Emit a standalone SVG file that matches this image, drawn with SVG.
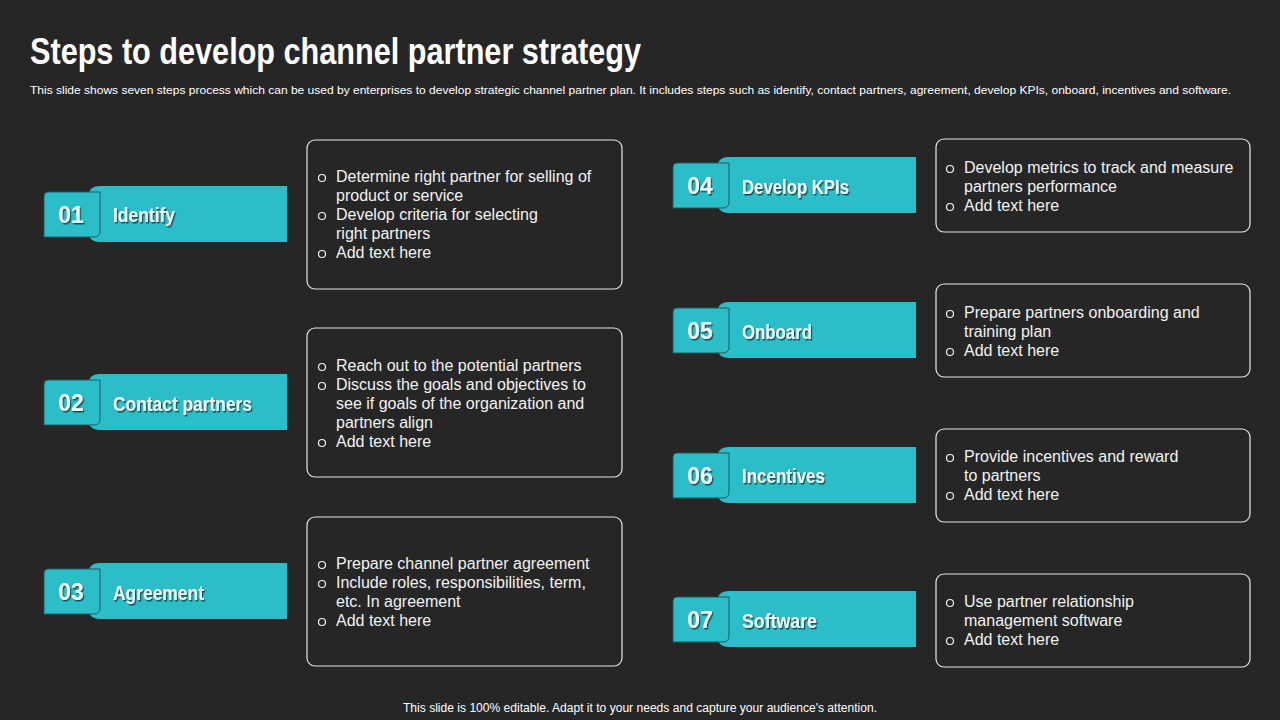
<svg xmlns="http://www.w3.org/2000/svg" width="1280" height="720" viewBox="0 0 1280 720">
<defs>
<filter id="sh" x="-10%" y="-20%" width="130%" height="160%">
<feDropShadow dx="1.2" dy="1.5" stdDeviation="0.6" flood-color="#0c3a3e" flood-opacity="0.85"/>
</filter>
<path id="banner" d="M12,0 H199 V56 H12 Q0,56 0,44 V12 Q0,0 12,0 Z"/>
<path id="numbox" d="M4,0 H56 V39 Q56,45 50,45 H0 V4 Q0,0 4,0 Z"/>
</defs>
<style>
.bg{fill:#262626}
.ban{fill:#2bbec8}
.num{fill:#2bbec8;stroke:#1d5a60;stroke-width:1}
.card{fill:#262626;stroke:#e6e6e6;stroke-width:1.2}
.title{font-family:"Liberation Sans Narrow","Liberation Sans",Arial,sans-serif;font-weight:bold;font-size:36px;fill:#ffffff}
.sub{font-family:"Liberation Sans",Arial,sans-serif;font-size:11px;fill:#ffffff}
.foot{font-family:"Liberation Sans",Arial,sans-serif;font-size:12px;fill:#ffffff}
.n{font-family:"Liberation Sans",Arial,sans-serif;font-weight:bold;font-size:23px;fill:#eefafa;text-anchor:middle}
.lbl{font-family:"Liberation Sans Narrow","Liberation Sans",Arial,sans-serif;font-weight:bold;font-size:20px;fill:#eefafa}
.b{font-family:"Liberation Sans",Arial,sans-serif;font-size:16px;fill:#f2f2f2}
.dot{fill:none;stroke:#f2f2f2;stroke-width:1.2}
</style>
<rect class="bg" x="0" y="0" width="1280" height="720"/>
<text class="title" x="30" y="64" textLength="611" lengthAdjust="spacingAndGlyphs">Steps to develop channel partner strategy</text>
<text class="sub" x="30" y="94" textLength="1201" lengthAdjust="spacingAndGlyphs">This slide shows seven steps process which can be used by enterprises to develop strategic channel partner plan. It includes steps such as identify, contact partners, agreement, develop KPIs, onboard, incentives and software.</text>

<g id="step1">
<use href="#banner" class="ban" x="88" y="186"/>
<use href="#numbox" class="num" x="44" y="192"/>
<text class="n" x="71" y="223" filter="url(#sh)">01</text>
<text class="lbl" x="113" y="222" textLength="62" lengthAdjust="spacingAndGlyphs" filter="url(#sh)">Identify</text>
<rect class="card" x="307" y="140" width="315" height="149" rx="8"/>
<circle class="dot" cx="322" cy="178" r="3.5"/><circle class="dot" cx="322" cy="216" r="3.5"/><circle class="dot" cx="322" cy="254" r="3.5"/>
<text class="b" x="336" y="182">Determine right partner for selling of</text>
<text class="b" x="336" y="201">product or service</text>
<text class="b" x="336" y="220">Develop criteria for selecting</text>
<text class="b" x="336" y="239">right partners</text>
<text class="b" x="336" y="258">Add text here</text>
</g>

<g id="step2">
<use href="#banner" class="ban" x="88" y="374"/>
<use href="#numbox" class="num" x="44" y="380"/>
<text class="n" x="71" y="411" filter="url(#sh)">02</text>
<text class="lbl" x="113" y="411" textLength="139" lengthAdjust="spacingAndGlyphs" filter="url(#sh)">Contact partners</text>
<rect class="card" x="307" y="328" width="315" height="149" rx="8"/>
<circle class="dot" cx="322" cy="367" r="3.5"/><circle class="dot" cx="322" cy="386" r="3.5"/><circle class="dot" cx="322" cy="443" r="3.5"/>
<text class="b" x="336" y="371">Reach out to the potential partners</text>
<text class="b" x="336" y="390">Discuss the goals and objectives to</text>
<text class="b" x="336" y="409">see if goals of the organization and</text>
<text class="b" x="336" y="428">partners align</text>
<text class="b" x="336" y="447">Add text here</text>
</g>

<g id="step3">
<use href="#banner" class="ban" x="88" y="563"/>
<use href="#numbox" class="num" x="44" y="569"/>
<text class="n" x="71" y="600" filter="url(#sh)">03</text>
<text class="lbl" x="113" y="600" textLength="91" lengthAdjust="spacingAndGlyphs" filter="url(#sh)">Agreement</text>
<rect class="card" x="307" y="517" width="315" height="149" rx="8"/>
<circle class="dot" cx="322" cy="565" r="3.5"/><circle class="dot" cx="322" cy="584" r="3.5"/><circle class="dot" cx="322" cy="622" r="3.5"/>
<text class="b" x="336" y="569">Prepare channel partner agreement</text>
<text class="b" x="336" y="588">Include  roles, responsibilities, term,</text>
<text class="b" x="336" y="607">etc. In agreement</text>
<text class="b" x="336" y="626">Add text here</text>
</g>

<g id="step4">
<use href="#banner" class="ban" x="717" y="157"/>
<use href="#numbox" class="num" x="673" y="163"/>
<text class="n" x="700" y="194" filter="url(#sh)">04</text>
<text class="lbl" x="742" y="194" textLength="107" lengthAdjust="spacingAndGlyphs" filter="url(#sh)">Develop KPIs</text>
<rect class="card" x="936" y="139" width="314" height="93" rx="8"/>
<circle class="dot" cx="950" cy="169" r="3.5"/><circle class="dot" cx="950" cy="207" r="3.5"/>
<text class="b" x="964" y="173">Develop metrics to track and measure</text>
<text class="b" x="964" y="192">partners performance</text>
<text class="b" x="964" y="211">Add text here</text>
</g>

<g id="step5">
<use href="#banner" class="ban" x="717" y="302"/>
<use href="#numbox" class="num" x="673" y="308"/>
<text class="n" x="700" y="339" filter="url(#sh)">05</text>
<text class="lbl" x="742" y="339" textLength="70" lengthAdjust="spacingAndGlyphs" filter="url(#sh)">Onboard</text>
<rect class="card" x="936" y="284" width="314" height="93" rx="8"/>
<circle class="dot" cx="950" cy="314" r="3.5"/><circle class="dot" cx="950" cy="352" r="3.5"/>
<text class="b" x="964" y="318">Prepare partners onboarding and</text>
<text class="b" x="964" y="337">training plan</text>
<text class="b" x="964" y="356">Add text here</text>
</g>

<g id="step6">
<use href="#banner" class="ban" x="717" y="447"/>
<use href="#numbox" class="num" x="673" y="453"/>
<text class="n" x="700" y="484" filter="url(#sh)">06</text>
<text class="lbl" x="742" y="483" textLength="83" lengthAdjust="spacingAndGlyphs" filter="url(#sh)">Incentives</text>
<rect class="card" x="936" y="429" width="314" height="93" rx="8"/>
<circle class="dot" cx="950" cy="458" r="3.5"/><circle class="dot" cx="950" cy="496" r="3.5"/>
<text class="b" x="964" y="462">Provide incentives and reward</text>
<text class="b" x="964" y="481">to partners</text>
<text class="b" x="964" y="500">Add text here</text>
</g>

<g id="step7">
<use href="#banner" class="ban" x="717" y="591"/>
<use href="#numbox" class="num" x="673" y="597"/>
<text class="n" x="700" y="628" filter="url(#sh)">07</text>
<text class="lbl" x="742" y="628" textLength="75" lengthAdjust="spacingAndGlyphs" filter="url(#sh)">Software</text>
<rect class="card" x="936" y="574" width="314" height="93" rx="8"/>
<circle class="dot" cx="950" cy="603" r="3.5"/><circle class="dot" cx="950" cy="641" r="3.5"/>
<text class="b" x="964" y="607">Use partner relationship</text>
<text class="b" x="964" y="626">management software</text>
<text class="b" x="964" y="645">Add text here</text>
</g>

<g id="connectors"></g>

<text class="foot" x="640" y="712" text-anchor="middle" textLength="474" lengthAdjust="spacingAndGlyphs">This slide is 100% editable. Adapt it to your needs and capture your audience's attention.</text>
</svg>
